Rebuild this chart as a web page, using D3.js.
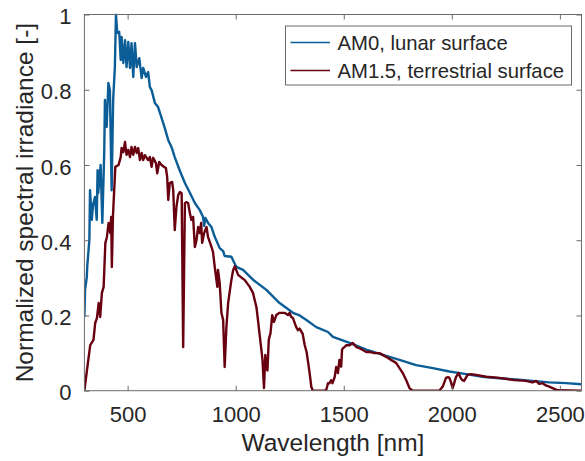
<!DOCTYPE html>
<html>
<head>
<meta charset="utf-8">
<script src="https://cdn.jsdelivr.net/npm/d3@7"></script>
<style>
  html, body { margin: 0; padding: 0; background: #fff; }
  svg { display: block; font-family: "Liberation Sans", Arial, sans-serif; }
</style>
</head>
<body>
<svg id="chart" width="585" height="461"></svg>
<script>
// ---------- data ----------
const seriesNames = ["AM0, lunar surface", "AM1.5, terrestrial surface"];

const am0Wavelength = [300,303,311,313,323,326,334,340,349,357,361,364,375,383,392,395,403,411,418,426,433,441,446,452,461,468,472,480,488,495,503,511,518,526,534,542,554,565,572,585,595,603,611,626,641,657,672,688,703,718,742,765,788,811,834,849,854,860,872,888,903,926,942,949,980,1003,1034,1080,1142,1203,1265,1296,1327,1373,1427,1450,1527,1604,1681,1758,1835,1912,1989,2066,2142,2220,2297,2373,2450,2528,2600];
const am0Value = [0.196,0.268,0.302,0.329,0.401,0.533,0.454,0.494,0.515,0.454,0.586,0.525,0.600,0.446,0.640,0.773,0.701,0.818,0.799,0.533,0.773,0.860,1.000,0.951,0.954,0.879,0.940,0.871,0.932,0.860,0.927,0.858,0.924,0.834,0.924,0.860,0.884,0.831,0.858,0.834,0.847,0.807,0.799,0.765,0.754,0.725,0.698,0.666,0.648,0.621,0.584,0.552,0.526,0.499,0.480,0.462,0.438,0.459,0.446,0.435,0.409,0.379,0.371,0.358,0.356,0.329,0.321,0.295,0.268,0.233,0.207,0.200,0.188,0.169,0.156,0.143,0.127,0.109,0.095,0.082,0.068,0.060,0.051,0.044,0.037,0.033,0.030,0.026,0.022,0.020,0.017];

const am15Wavelength = [300,312,327,342,350,358,366,373,381,389,397,404,412,420,424,427,432,443,458,468,472,480,488,495,503,511,518,526,534,542,549,557,565,572,580,588,595,603,611,618,631,637,646,657,668,677,683,688,695,706,711,718,726,734,742,750,757,765,773,780,788,795,803,811,819,826,834,840,845,854,865,872,888,895,903,911,915,918,926,934,942,946,949,957,965,972,980,988,996,1011,1042,1065,1080,1096,1103,1111,1119,1124,1131,1137,1142,1147,1153,1161,1169,1177,1188,1203,1226,1242,1249,1257,1265,1280,1288,1296,1310,1319,1328,1335,1342,1350,1357,1411,1419,1427,1434,1442,1448,1458,1465,1473,1480,1488,1492,1496,1504,1512,1527,1542,1558,1573,1588,1604,1619,1642,1665,1696,1719,1742,1758,1773,1789,1804,1819,1942,1958,1973,1982,1989,1996,2004,2011,2019,2031,2041,2049,2057,2073,2089,2112,2158,2220,2289,2343,2373,2390,2404,2420,2435,2451,2466,2489,2600];
const am15Value = [0,0.055,0.121,0.135,0.180,0.193,0.233,0.196,0.260,0.276,0.393,0.408,0.446,0.419,0.462,0.329,0.462,0.595,0.600,0.621,0.645,0.634,0.661,0.627,0.640,0.621,0.648,0.627,0.648,0.632,0.645,0.613,0.632,0.613,0.626,0.619,0.613,0.621,0.595,0.619,0.605,0.578,0.608,0.600,0.595,0.592,0.568,0.507,0.552,0.555,0.533,0.427,0.489,0.520,0.528,0.525,0.116,0.499,0.501,0.499,0.472,0.454,0.462,0.382,0.401,0.435,0.419,0.446,0.393,0.419,0.435,0.409,0.382,0.369,0.329,0.294,0.276,0.321,0.286,0.207,0.188,0.116,0.063,0.169,0.233,0.262,0.294,0.320,0.331,0.308,0.294,0.276,0.260,0.222,0.188,0.148,0.108,0.082,0.007,0.095,0.060,0.054,0.135,0.153,0.201,0.183,0.201,0.207,0.207,0.201,0.207,0.196,0.193,0.169,0.161,0.165,0.151,0.122,0.103,0.076,0.047,0.010,0,0,0.002,0.020,0.020,0.028,0.020,0.036,0.063,0.047,0.082,0.064,0.108,0.113,0.116,0.121,0.121,0.127,0.116,0.113,0.108,0.103,0.103,0.100,0.100,0.090,0.082,0.074,0.060,0.047,0.028,0.007,0,0,0.011,0.034,0.036,0.034,0.023,0.007,0.020,0.036,0.047,0.034,0.028,0.026,0.042,0.044,0.042,0.037,0.034,0.028,0.026,0.022,0.026,0.018,0.020,0.014,0.011,0.007,0.001,0];

const xTicks = [500, 1000, 1500, 2000, 2500];
const xTickLabels = ["500", "1000", "1500", "2000", "2500"];
const yTicks = [0, 0.2, 0.4, 0.6, 0.8, 1];
const yTickLabels = ["0", "0.2", "0.4", "0.6", "0.8", "1"];
const xLabel = "Wavelength [nm]";
const yLabel = "Normalized spectral irradiance [-]";

// ---------- layout ----------
const colors = ["#0b5d97", "#680010"];
const textColor = "#262626";
const axisColor = "#6b6b6b";
const plot = { left: 84.4, right: 581.5, top: 14.5, bottom: 390.7 };

const svg = d3.select("#chart");
const x = d3.scaleLinear().domain([300, 2600]).range([plot.left, plot.right]);
const y = d3.scaleLinear().domain([0, 1]).range([plot.bottom, plot.top]);

svg.append("defs").append("clipPath").attr("id", "clip")
  .append("rect")
  .attr("x", plot.left).attr("y", plot.top - 1)
  .attr("width", plot.right - plot.left).attr("height", plot.bottom - plot.top + 1);

const series = [
  d3.zip(am0Wavelength, am0Value),
  d3.zip(am15Wavelength, am15Value)
];

const line = d3.line().x(d => x(d[0])).y(d => y(d[1]));

const g = svg.append("g").attr("clip-path", "url(#clip)");
series.forEach((s, i) => {
  g.append("path")
    .datum(s)
    .attr("fill", "none")
    .attr("stroke", colors[i])
    .attr("stroke-width", 2.4)
    .attr("stroke-linejoin", "round")
    .attr("d", line);
});

// ---------- axes ----------
function styleAxis(sel, showLabels) {
  sel.select(".domain").remove();
  sel.selectAll(".tick line").attr("stroke", axisColor).attr("stroke-width", 1);
  sel.selectAll(".tick text")
    .attr("fill", textColor)
    .style("font-size", "22px")
    .style("font-family", '"Liberation Sans", Arial, sans-serif');
  if (!showLabels) sel.selectAll(".tick text").remove();
}

const xAxisB = svg.append("g").attr("transform", `translate(0,${plot.bottom})`)
  .call(d3.axisBottom(x).tickValues(xTicks).tickFormat((d, i) => xTickLabels[i])
    .tickSizeInner(-5).tickSizeOuter(0).tickPadding(16));
styleAxis(xAxisB, true);
xAxisB.selectAll(".tick text").attr("dy", "0.71em");

const xAxisT = svg.append("g").attr("transform", `translate(0,${plot.top})`)
  .call(d3.axisTop(x).tickValues(xTicks).tickSizeInner(-5).tickSizeOuter(0));
styleAxis(xAxisT, false);

const yAxisL = svg.append("g").attr("transform", `translate(${plot.left},0)`)
  .call(d3.axisLeft(y).tickValues(yTicks).tickFormat((d, i) => yTickLabels[i])
    .tickSizeInner(-5).tickSizeOuter(0).tickPadding(13));
styleAxis(yAxisL, true);
yAxisL.selectAll(".tick text").attr("dy", "0.42em");

const yAxisR = svg.append("g").attr("transform", `translate(${plot.right},0)`)
  .call(d3.axisRight(y).tickValues(yTicks).tickSizeInner(-5).tickSizeOuter(0));
styleAxis(yAxisR, false);

// box
svg.append("rect")
  .attr("x", plot.left).attr("y", plot.top)
  .attr("width", plot.right - plot.left).attr("height", plot.bottom - plot.top)
  .attr("fill", "none").attr("stroke", axisColor).attr("stroke-width", 1);

// axis labels
svg.append("text")
  .attr("x", (plot.left + plot.right) / 2).attr("y", 451)
  .attr("text-anchor", "middle")
  .attr("fill", textColor)
  .style("font-size", "24.5px")
  .text(xLabel);

svg.append("text")
  .attr("transform", `translate(33,${(plot.top + plot.bottom) / 2}) rotate(-90)`)
  .attr("text-anchor", "middle")
  .attr("fill", textColor)
  .style("font-size", "24.5px")
  .text(yLabel);

// ---------- legend ----------
const legend = svg.append("g");
legend.append("rect")
  .attr("x", 285.5).attr("y", 26).attr("width", 286).attr("height", 59)
  .attr("fill", "#fff").attr("stroke", axisColor).attr("stroke-width", 1);

seriesNames.forEach((name, i) => {
  const ly = 42.5 + i * 28;
  legend.append("line")
    .attr("x1", 290.5).attr("x2", 330).attr("y1", ly).attr("y2", ly)
    .attr("stroke", colors[i]).attr("stroke-width", 1.5);
  legend.append("text")
    .attr("x", 337.5).attr("y", ly)
    .attr("dy", "0.35em")
    .attr("fill", textColor)
    .style("font-size", "20.3px")
    .text(name);
});
</script>
</body>
</html>
